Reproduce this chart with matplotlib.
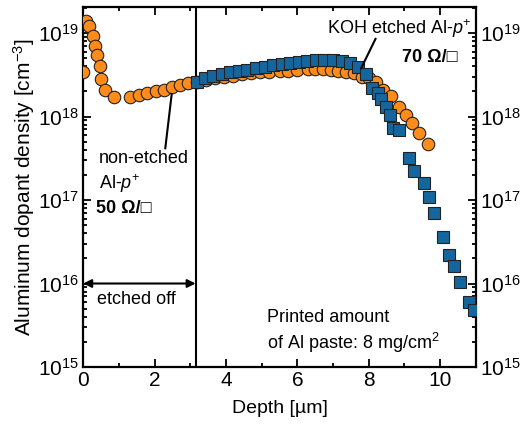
import matplotlib
matplotlib.use("Agg")
import matplotlib.pyplot as plt
from matplotlib.ticker import LogLocator, NullFormatter

plt.rcParams["font.family"] = ["Liberation Sans", "DejaVu Sans"]
plt.rcParams["mathtext.fontset"] = "custom"
plt.rcParams["mathtext.rm"] = "Liberation Sans"
plt.rcParams["mathtext.it"] = "Liberation Sans:italic"
plt.rcParams["mathtext.bf"] = "Liberation Sans:bold"

# non-etched Al-p+ profile (orange circles)
depth_nonetched = [
    0.0, 0.07, 0.16, 0.27, 0.34, 0.39, 0.46, 0.50, 0.62, 0.85,
    1.32, 1.55, 1.80, 2.04, 2.25, 2.48, 2.72, 2.95, 3.20, 3.45,
    3.70, 3.95, 4.20, 4.45, 4.71, 4.95, 5.20, 5.50, 5.75, 6.00,
    6.30, 6.50, 6.72, 6.95, 7.15, 7.37, 7.60, 7.80, 8.00, 8.21,
    8.40, 8.63, 8.86, 9.04, 9.20, 9.42, 9.65,
]
density_nonetched = [
    3.4e18, 1.38e19, 1.2e19, 9.1e18, 6.9e18, 5.5e18, 4.0e18, 2.8e18, 2.1e18, 1.7e18,
    1.7e18, 1.8e18, 1.9e18, 2.0e18, 2.1e18, 2.25e18, 2.4e18, 2.5e18, 2.6e18, 2.75e18,
    2.9e18, 3.0e18, 3.1e18, 3.2e18, 3.3e18, 3.4e18, 3.4e18, 3.5e18, 3.55e18, 3.6e18,
    3.7e18, 3.7e18, 3.7e18, 3.65e18, 3.55e18, 3.45e18, 3.3e18, 3.0e18, 2.9e18, 2.6e18,
    2.1e18, 1.75e18, 1.3e18, 1.05e18, 8.3e17, 6.3e17, 4.7e17,
]

# KOH etched Al-p+ profile (blue squares)
depth_etched = [
    3.18, 3.42, 3.64, 3.88, 4.12, 4.36, 4.60, 4.84, 5.08, 5.32,
    5.56, 5.80, 6.04, 6.28, 6.52, 6.76, 7.00, 7.24, 7.48, 7.70,
    7.91, 8.10, 8.25, 8.35, 8.49, 8.60, 8.68, 8.85, 9.14, 9.28,
    9.56, 9.70, 9.84, 10.07, 10.24, 10.40, 10.56, 10.80, 10.94,
]
density_etched = [
    2.6e18, 2.9e18, 3.1e18, 3.2e18, 3.4e18, 3.5e18, 3.65e18, 3.8e18, 3.95e18, 4.1e18,
    4.2e18, 4.35e18, 4.5e18, 4.6e18, 4.7e18, 4.8e18, 4.8e18, 4.6e18, 4.4e18, 3.9e18,
    3.2e18, 2.2e18, 1.9e18, 1.6e18, 1.3e18, 1.05e18, 7.2e17, 6.9e17, 3.2e17, 2.2e17,
    1.6e17, 1.1e17, 6.9e16, 3.6e16, 2.2e16, 1.6e16, 1.05e16, 6.0e15, 4.8e15,
]

etch_depth = 3.15
note_size = 13

fig = plt.figure(figsize=(5.2, 4.25), dpi=100)
ax = fig.add_axes([0.16, 0.1365, 0.755, 0.847])

ax.plot(depth_nonetched, density_nonetched, "o", ms=9, mfc="#FF8C1A",
        mec="#222222", mew=0.8, zorder=3)
ax.plot(depth_etched, density_etched, "s", ms=8, mfc="#15669E",
        mec="#222222", mew=0.8, zorder=4)

ax.set_yscale("log")
ax.set_xlim(0, 11)
ax.set_ylim(1e15, 2.05e19)
ax.set_xticks([0, 2, 4, 6, 8, 10])
ax.set_xticks(range(0, 12), minor=True)
ax.yaxis.set_major_locator(LogLocator(base=10, numticks=10))
ax.yaxis.set_minor_locator(LogLocator(base=10, subs=range(2, 10), numticks=20))
ax.yaxis.set_minor_formatter(NullFormatter())
ax.tick_params(which="both", direction="in", top=True, right=True,
               labelright=True, labelsize=15, width=1.3)
ax.tick_params(which="major", length=6, pad=3)
ax.tick_params(which="minor", length=3)
for spine in ax.spines.values():
    spine.set_linewidth(1.6)

ax.set_xlabel("Depth [µm]", fontsize=14, labelpad=7)
ax.set_ylabel("Aluminum dopant density [cm$^{-3}$]", fontsize=15, labelpad=1)

ax.axvline(etch_depth, color="black", lw=1.5, zorder=2)
ax.annotate("", xy=(0, 1e16), xytext=(etch_depth, 1e16),
            arrowprops=dict(arrowstyle="<|-|>", color="black", lw=1.5,
                            mutation_scale=12, shrinkA=0, shrinkB=0))
ax.text(0.39, 10**15.81, "etched off", fontsize=note_size, va="center")

ax.plot([2.3, 2.48], [10**17.62, 10**18.27], color="black", lw=1.5, zorder=5)
ax.text(0.43, 10**17.50, "non-etched", fontsize=note_size, va="center")
ax.text(0.43, 10**17.20, "Al-$p^{+}$", fontsize=note_size, va="center")
ax.text(0.37, 10**16.90, "50 Ω/□", fontsize=note_size, va="center",
        fontweight="bold")

ax.plot([8.19, 7.79], [10**18.93, 10**18.58], color="black", lw=1.5, zorder=5)
ax.text(10.87, 10**19.05, "KOH etched Al-$p^{+}$", fontsize=note_size,
        va="center", ha="right")
ax.text(10.48, 10**18.71, "70 Ω/□", fontsize=note_size, va="center",
        ha="right", fontweight="bold")

ax.text(5.14, 10**15.59, "Printed amount", fontsize=note_size, va="center")
ax.text(5.14, 10**15.29, "of Al paste: 8 mg/cm$^{2}$", fontsize=note_size,
        va="center")

fig.savefig("out.png", dpi=100, facecolor="white")
